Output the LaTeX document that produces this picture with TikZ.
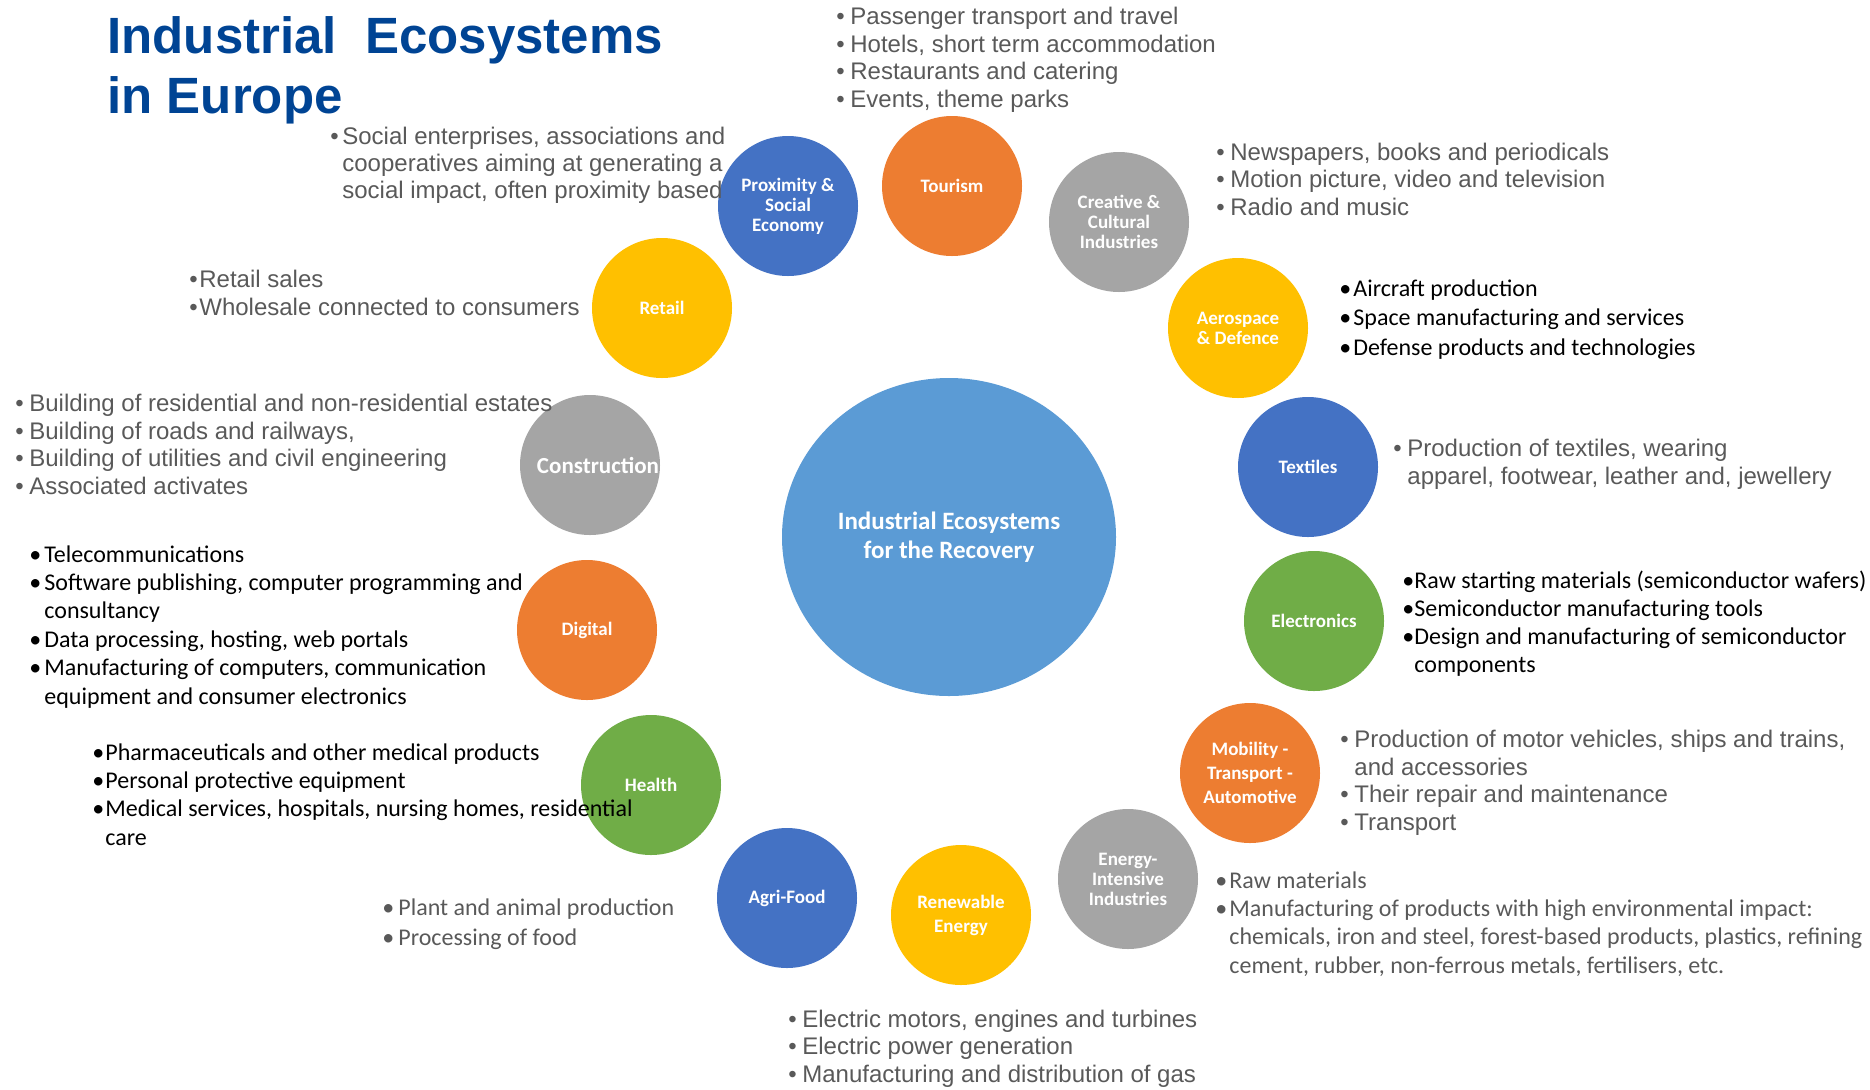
\documentclass[tikz,border=0pt]{standalone}
\usepackage{fontspec}
\setmainfont{Liberation Sans}
\newfontfamily\calib{Carlito}
\usetikzlibrary{shapes.geometric}
\definecolor{cblue}{HTML}{4472C4}
\definecolor{corange}{HTML}{ED7D31}
\definecolor{cgray}{HTML}{A5A5A5}
\definecolor{cyellow}{HTML}{FFC000}
\definecolor{cgreen}{HTML}{70AD47}
\definecolor{ccenter}{HTML}{5B9BD5}
\definecolor{titleblue}{RGB}{0,68,148}
\definecolor{txtgray}{HTML}{595959}
\newcommand\bul[1][7pt]{\makebox[#1][l]{•}}
\newcommand\ind[1][7pt]{\hspace*{#1}}
\tikzset{
  eco/.style={circle, minimum size=70pt, inner sep=0pt, text=white, align=center,
    font=\calib\bfseries\fontsize{9.5}{10}\selectfont},
  arialtxt/.style={anchor=base west, inner sep=0pt, align=left, text=txtgray,
    font=\fontsize{12}{13.7}\selectfont},
  calibtxt/.style={anchor=base west, inner sep=0pt, align=left, text=black,
    font=\calib\fontsize{12}{14.2}\selectfont},
}
\begin{document}
\begin{tikzpicture}[x=0.5pt, y=-0.5pt]
\useasboundingbox (0,0) rectangle (1870,1089);

% title (anchor = baseline of last line)
\node[anchor=base west, inner sep=0pt, align=left, text=titleblue,
  font=\bfseries\fontsize{25.5}{30}\selectfont] (title) at (107,113)
  {Industrial\ \ Ecosystems\\in Europe};

% central ellipse
\node[ellipse, fill=ccenter, minimum width=167pt, minimum height=159pt, inner sep=0pt,
  text=white, align=center, font=\calib\bfseries\fontsize{12.5}{14.5}\selectfont]
  (center) at (949,537) {Industrial Ecosystems\\for the Recovery};

% ecosystem circles
\node[eco, fill=cblue] (prox) at (788,206) {Proximity \&\\Social\\Economy};
\node[eco, fill=corange] (tour) at (952,186) {Tourism};
\node[eco, fill=cgray] (crea) at (1119,222) {Creative \&\\Cultural\\Industries};
\node[eco, fill=cyellow] (aero) at (1238,328) {Aerospace\\\& Defence};
\node[eco, fill=cblue] (texti) at (1308,467) {Textiles};
\node[eco, fill=cgreen] (elec) at (1314,621) {Electronics};
\node[eco, fill=corange, font=\calib\bfseries\fontsize{9.5}{12}\selectfont] (mob) at (1250,773) {Mobility -\\Transport -\\Automotive};
\node[eco, fill=cgray] (energy) at (1128,879) {Energy-\\Intensive\\Industries};
\node[eco, fill=cyellow, font=\calib\bfseries\fontsize{9.5}{12}\selectfont] (renew) at (961,915) {Renewable\\Energy};
\node[eco, fill=cblue] (agri) at (787,898) {Agri-Food};
\node[eco, fill=cgreen] (health) at (651,785) {Health};
\node[eco, fill=corange] (digital) at (587,630) {Digital};
\node[eco, fill=cgray, font=\calib\bfseries\fontsize{11.5}{12}\selectfont] (constr) at (590,465) {\hspace*{8pt}Construction};
\node[eco, fill=cyellow] (retail) at (662,308) {Retail};

% descriptions (each placed at the baseline of its last line)
\node[arialtxt] (tourlist) at (836,107)
  {\bul Passenger transport and travel\\\bul Hotels, short term accommodation\\\bul Restaurants and catering\\\bul Events, theme parks};
\node[arialtxt, font=\fontsize{12}{13.4}\selectfont] (proxlist) at (330,198)
  {\bul[6pt]Social enterprises, associations and\\\ind[6pt]cooperatives aiming at generating a\\\ind[6pt]social impact, often proximity based};
\node[arialtxt] (crealist) at (1216,215)
  {\bul Newspapers, books and periodicals\\\bul Motion picture, video and television\\\bul Radio and music};
\node[calibtxt, font=\calib\fontsize{12}{14.6}\selectfont] (aerolist) at (1339,355)
  {\bul[7pt]Aircraft production\\\bul[7pt]Space manufacturing and services\\\bul[7pt]Defense products and technologies};
\node[arialtxt] (textilist) at (1393,484)
  {\bul Production of textiles, wearing\\\ind apparel, footwear, leather and, jewellery};
\node[calibtxt, font=\calib\fontsize{12}{13.9}\selectfont] (eleclist) at (1402,672)
  {\bul[6pt]Raw starting materials (semiconductor wafers)\\\bul[6pt]Semiconductor manufacturing tools\\\bul[6pt]Design and manufacturing of semiconductor\\\ind[6pt]components};
\node[arialtxt] (moblist) at (1340,830)
  {\bul Production of motor vehicles, ships and trains,\\\ind and accessories\\\bul Their repair and maintenance\\\bul Transport};
\node[calibtxt, text=txtgray, font=\calib\fontsize{12}{14.1}\selectfont] (energylist) at (1215,973)
  {\bul[7pt]Raw materials\\\bul[7pt]Manufacturing of products with high environmental impact:\\\ind[7pt]chemicals, iron and steel, forest-based products, plastics, refining\\\ind[7pt]cement, rubber, non-ferrous metals, fertilisers, etc.};
\node[arialtxt] (renewlist) at (788,1082)
  {\bul Electric motors, engines and turbines\\\bul Electric power generation\\\bul Manufacturing and distribution of gas};
\node[calibtxt, text=txtgray, font=\calib\fontsize{12}{14.9}\selectfont] (agrilist) at (382,945)
  {\bul[8pt]Plant and animal production\\\bul[8pt]Processing of food};
\node[calibtxt, font=\calib\fontsize{12}{14.1}\selectfont] (healthlist) at (92,845)
  {\bul[6.5pt]Pharmaceuticals and other medical products\\\bul[6.5pt]Personal protective equipment\\\bul[6.5pt]Medical services, hospitals, nursing homes, residential\\\ind[6.5pt]care};
\node[calibtxt] (digitallist) at (29,704)
  {\bul[7.5pt]Telecommunications\\\bul[7.5pt]Software publishing, computer programming and\\\ind[7.5pt]consultancy\\\bul[7.5pt]Data processing, hosting, web portals\\\bul[7.5pt]Manufacturing of computers, communication\\\ind[7.5pt]equipment and consumer electronics};
\node[arialtxt] (constrlist) at (15,494)
  {\bul Building of residential and non-residential estates\\\bul Building of roads and railways,\\\bul Building of utilities and civil engineering\\\bul Associated activates};
\node[arialtxt] (retaillist) at (189,315)
  {\bul[5pt]Retail sales\\\bul[5pt]Wholesale connected to consumers};
\end{tikzpicture}
\end{document}
